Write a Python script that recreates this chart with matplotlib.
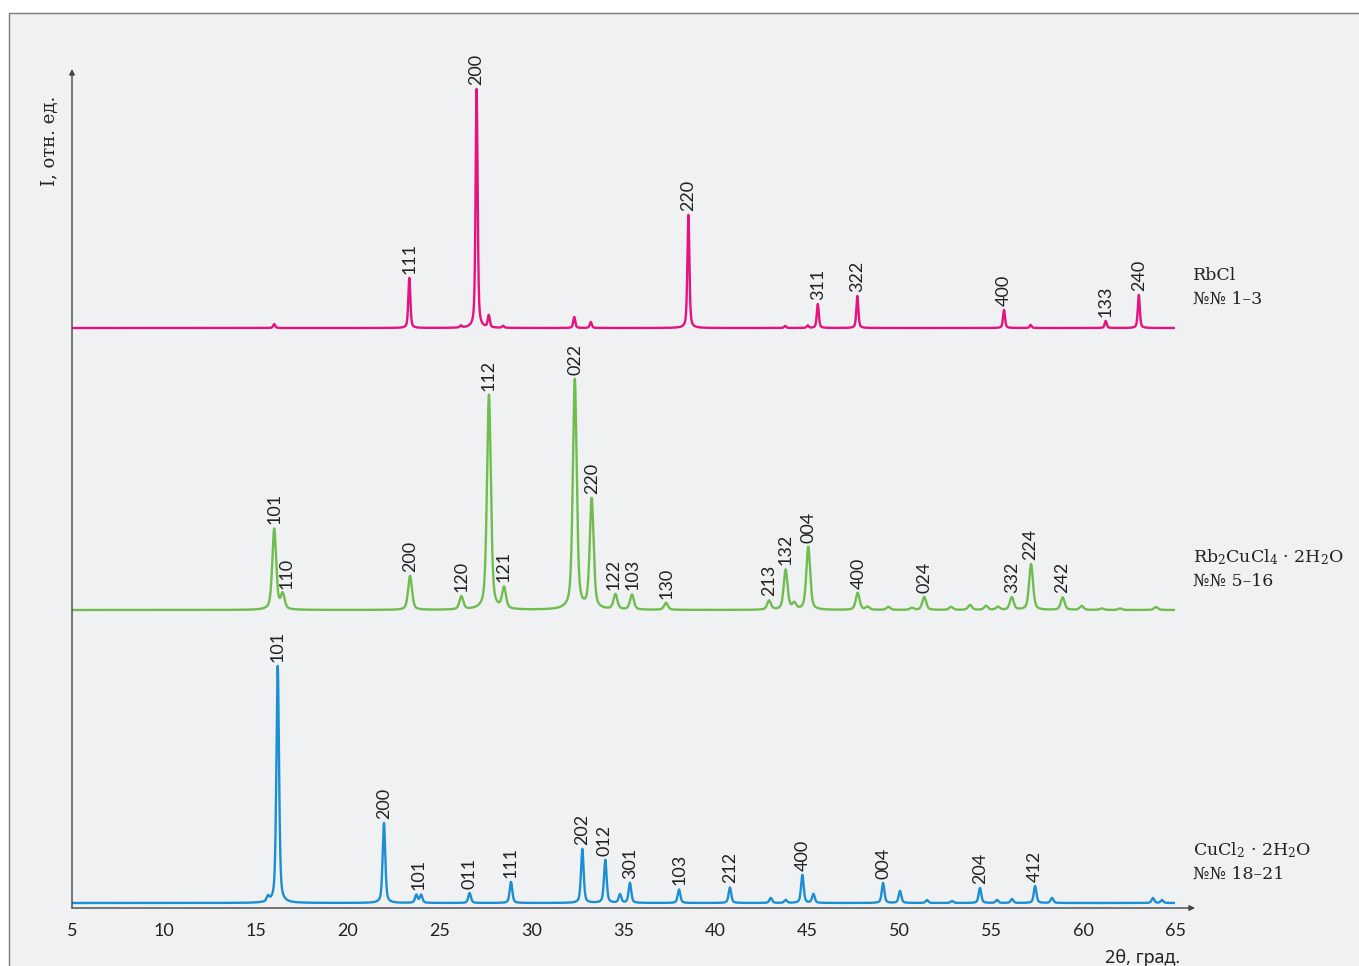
import numpy as np
import matplotlib
matplotlib.use("Agg")
import matplotlib.pyplot as plt
from matplotlib.patches import Rectangle

plt.rcParams['font.family'] = ['Lato', 'Noto Sans', 'DejaVu Sans']
plt.rcParams['mathtext.default'] = 'regular'

# peak positions (2θ, deg) and heights (rel. units) for the three patterns
rbcl_pos = [16.00, 23.35, 26.16, 27.01, 27.67, 28.45, 32.32, 33.22, 38.53, 43.79,
            45.02, 45.57, 47.72, 55.70, 57.15, 61.23, 63.03]
rbcl_int = [4, 50, 2, 239, 12, 2, 11, 6, 113, 2, 2.5, 24, 32, 18, 3, 7, 33]

rb2_pos = [16.00, 16.46, 23.39, 26.18, 27.68, 28.50, 32.35, 33.27, 34.56, 35.46,
           37.31, 42.92, 43.82, 44.29, 45.05, 47.74, 48.28, 49.41, 50.69, 51.36,
           52.82, 53.85, 54.72, 55.37, 56.12, 57.17, 58.89, 59.92, 61.01, 62.01, 63.97]
rb2_int = [81, 15, 34, 13, 215, 21, 230, 110, 15, 15,
           7, 9, 40, 6, 63, 17, 3, 3, 2, 13,
           3, 5, 4, 3, 12.5, 46, 12.5, 4, 1.5, 1.5, 3]

cucl2_pos = [15.66, 16.19, 21.97, 23.73, 23.99, 26.63, 28.88, 32.76, 34.01, 34.81,
             35.35, 38.02, 40.79, 43.01, 43.82, 44.73, 45.33, 49.12, 50.04, 51.51,
             52.87, 54.39, 55.32, 56.13, 57.39, 58.31, 63.80, 64.29]
cucl2_int = [5, 237, 80, 8, 8, 10, 21, 54, 43, 8.5,
             20, 13.5, 15.5, 5, 3, 28, 9, 20, 12, 3,
             2, 15, 3, 4, 17, 5, 5, 3]

rbcl_hkl = [('111', 23.35), ('200', 27.01), ('220', 38.53), ('311', 45.57),
            ('322', 47.72), ('400', 55.70), ('133', 61.23), ('240', 63.03)]
rb2_hkl = [('101', 16.00), ('110', 16.69), ('200', 23.39), ('120', 26.18),
           ('112', 27.68), ('121', 28.50), ('022', 32.40), ('220', 33.30),
           ('122', 34.45), ('103', 35.50), ('130', 37.34), ('213', 42.92),
           ('132', 43.79), ('004', 45.05), ('400', 47.80), ('024', 51.36),
           ('332', 56.12), ('224', 57.12), ('242', 58.89)]
cucl2_hkl = [('101', 16.19), ('200', 21.97), ('101', 23.85), ('011', 26.63),
             ('111', 28.88), ('202', 32.76), ('012', 33.96), ('301', 35.35),
             ('103', 38.02), ('212', 40.79), ('400', 44.73), ('004', 49.12),
             ('204', 54.39), ('412', 57.39)]

xticks = [5, 10, 15, 20, 25, 30, 35, 40, 45, 50, 55, 60, 65]


def pattern(x, pos, amp, fwhm, eta=0.5):
    # pseudo-Voigt profile for every reflection
    y = np.zeros_like(x)
    for p, a in zip(pos, amp):
        d = (x - p) / (fwhm / 2)
        y += a * (eta / (1 + d ** 2) + (1 - eta) * np.exp(-np.log(2) * d ** 2))
    return y


tt = np.arange(5.0, 65.0, 0.005)
traces = [
    (pattern(tt, rbcl_pos, rbcl_int, 0.13), 580, '#e5127f', rbcl_hkl,
     'RbCl', '№№ 1–3'),
    (pattern(tt, rb2_pos, rb2_int, 0.25), 298, '#70bd4f', rb2_hkl,
     'Rb$_2$CuCl$_4$ · 2H$_2$O', '№№ 5–16'),
    (pattern(tt, cucl2_pos, cucl2_int, 0.17), 5, '#1b8fd3', cucl2_hkl,
     'CuCl$_2$ · 2H$_2$O', '№№ 18–21'),
]

W, H = 1359, 966
fig = plt.figure(figsize=(W / 100, H / 100), dpi=100, facecolor='white')
fig.patches.append(Rectangle((9 / W, -0.1), 1.2, (H - 13) / H + 0.1,
                             transform=fig.transFigure, facecolor='#f0f1f3',
                             edgecolor='#7a7a7a', lw=1.0, zorder=-10))

ax = fig.add_axes([72 / W, 58 / H, 1103 / W, 838 / H])
ax.set_facecolor('none')
ax.set_xlim(5, 65)
ax.set_ylim(0, 838)
for s in ax.spines.values():
    s.set_visible(False)
ax.set_yticks([])
ax.set_xticks(xticks)
ax.tick_params(axis='x', length=0, pad=11, labelsize=13, labelcolor='#222222')

for y, off, color, hkl, name, nums in traces:
    ax.plot(tt, y + off, color=color, lw=1.7, solid_joinstyle='round')
    for lab, pos in hkl:
        m = (tt > pos - 0.22) & (tt < pos + 0.22)
        top = y[m].max() + off
        ax.text(pos, top + 4, lab, rotation=90, ha='center', va='bottom',
                fontsize=13, color='#222222')
    ax.text(66.0, off + 48, name, fontsize=12.5, family='DejaVu Serif',
            color='#222222', va='baseline')
    ax.text(66.0, off + 24, nums, fontsize=12.5, family='DejaVu Serif',
            color='#222222', va='baseline')

# axes drawn as arrows
arrow = dict(arrowstyle='-|>', color='#444444', lw=1.0,
             mutation_scale=8, shrinkA=0, shrinkB=0)
ax.annotate('', xy=(66.09, 0), xytext=(5, 0), arrowprops=arrow,
            annotation_clip=False)
ax.annotate('', xy=(5, 839), xytext=(5, 0), arrowprops=arrow,
            annotation_clip=False)

ax.text(3.8, 767, 'I, отн. ед.', rotation=90, ha='center', va='center',
        fontsize=13, family='DejaVu Serif', color='#222222')
ax.text(65.3, -50, '2θ, град.', ha='right', va='center', fontsize=13,
        family=['Noto Sans', 'DejaVu Sans'], color='#222222')

fig.savefig('out.png', dpi=100, facecolor='white')
